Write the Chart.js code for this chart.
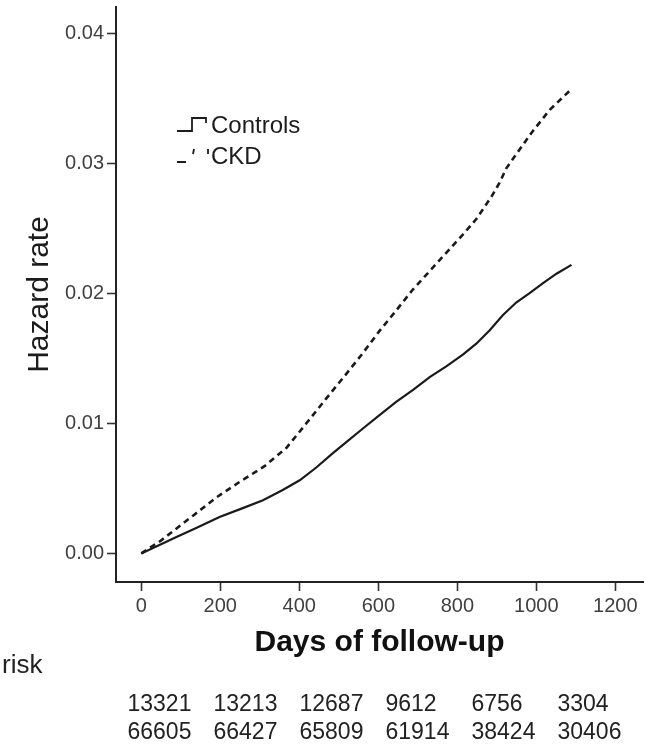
<!DOCTYPE html>
<html>
<head>
<meta charset="utf-8">
<title>Hazard rate by days of follow-up</title>
<script src="https://cdn.jsdelivr.net/npm/chart.js@4/dist/chart.umd.min.js"></script>
<style>
  html, body { margin: 0; padding: 0; background: #ffffff; }
  #wrap { width: 659px; height: 751px; }
</style>
</head>
<body>
<div id="wrap"><canvas id="chart" width="659" height="751"></canvas></div>
<script>
// Cumulative hazard, controls (solid line)
const controlDays = [0, 46, 89, 139, 198, 257, 308, 358, 401, 443, 485, 519, 561, 603, 646, 688, 730, 772, 814, 848, 882, 915, 949, 983, 1017, 1051, 1089];
const controlHazard = [0, 0.00064, 0.00125, 0.00195, 0.00280, 0.00348, 0.00408, 0.00487, 0.00562, 0.00660, 0.00770, 0.00855, 0.00960, 0.01062, 0.01166, 0.01256, 0.01355, 0.01438, 0.01528, 0.01612, 0.01715, 0.01830, 0.01928, 0.02000, 0.02077, 0.02150, 0.02218];

// Cumulative hazard, CKD (dashed line)
const ckdDays = [0, 46, 131, 190, 249, 312, 367, 418, 468, 519, 561, 603, 646, 688, 730, 772, 814, 848, 886, 907, 924, 945, 987, 1034, 1089];
const ckdHazard = [0, 0.0009, 0.0029, 0.0043, 0.0055, 0.0067, 0.0081, 0.0100, 0.0119, 0.0138, 0.0154, 0.0171, 0.0187, 0.0203, 0.0217, 0.0231, 0.0245, 0.0257, 0.0274, 0.0285, 0.0296, 0.0305, 0.0323, 0.0341, 0.0357];

// Axis ticks
const xTicks = [0, 200, 400, 600, 800, 1000, 1200];
const xTickLabels = ['0', '200', '400', '600', '800', '1000', '1200'];
const yTicks = [0, 0.01, 0.02, 0.03, 0.04];
const yTickLabels = ['0.00', '0.01', '0.02', '0.03', '0.04'];

// Numbers at risk
const atRiskCKD = [13321, 13213, 12687, 9612, 6756, 3304];
const atRiskControls = [66605, 66427, 65809, 61914, 38424, 30406];

const seriesNames = ['Controls', 'CKD'];
const xTitle = 'Days of follow-up';
const yTitle = 'Hazard rate';
const riskLabel = 'risk';

const FONT = "'Liberation Sans', Arial, Helvetica, sans-serif";
const INK = '#1c1c1c';

function toPoints(xs, ys) {
  return xs.map((x, i) => ({ x: x, y: ys[i] }));
}

// Legend inside the plot plus the numbers-at-risk table underneath
const annotations = {
  id: 'annotations',
  afterDraw(chart) {
    const ctx = chart.ctx;
    ctx.save();

    // legend
    const lx = 177;
    const rows = [133, 164];
    chart.data.datasets.forEach((ds, i) => {
      const base = rows[i];
      ctx.strokeStyle = INK;
      ctx.lineWidth = 1.8;
      ctx.lineJoin = 'miter';
      ctx.beginPath();
      if (!ds.borderDash || ds.borderDash.length === 0) {
        ctx.moveTo(lx, base - 2);
        ctx.lineTo(lx + 15, base - 2);
        ctx.lineTo(lx + 15, base - 15);
        ctx.lineTo(lx + 29, base - 15);
        ctx.lineTo(lx + 29, base - 10);
      } else {
        ctx.moveTo(lx, base - 2);
        ctx.lineTo(lx + 9, base - 2);
        ctx.moveTo(lx + 17, base - 15);
        ctx.lineTo(lx + 16, base - 10);
        ctx.moveTo(lx + 31, base - 15);
        ctx.lineTo(lx + 31, base - 10);
      }
      ctx.stroke();
      ctx.fillStyle = INK;
      ctx.font = '24px ' + FONT;
      ctx.textAlign = 'left';
      ctx.textBaseline = 'alphabetic';
      ctx.fillText(ds.label, lx + 34, base);
    });

    // numbers at risk
    ctx.fillStyle = '#222222';
    ctx.font = '26px ' + FONT;
    ctx.textAlign = 'left';
    ctx.fillText(riskLabel, 2, 673);

    ctx.font = '23px ' + FONT;
    const colStart = 127.5;
    const colPitch = 86;
    [atRiskCKD, atRiskControls].forEach((row, r) => {
      const y = r === 0 ? 711 : 739;
      row.forEach((n, c) => {
        ctx.fillText(String(n), colStart + c * colPitch, y);
      });
    });

    ctx.restore();
  }
};

new Chart(document.getElementById('chart'), {
  type: 'line',
  data: {
    datasets: [
      {
        label: seriesNames[0],
        data: toPoints(controlDays, controlHazard),
        borderColor: '#1a1a1a',
        borderWidth: 2.2,
        borderDash: [],
        pointRadius: 0,
        tension: 0,
        fill: false
      },
      {
        label: seriesNames[1],
        data: toPoints(ckdDays, ckdHazard),
        borderColor: '#1a1a1a',
        borderWidth: 2.6,
        borderDash: [6, 4.5],
        pointRadius: 0,
        tension: 0,
        fill: false
      }
    ]
  },
  options: {
    responsive: false,
    animation: false,
    events: [],
    layout: { padding: { left: 0, right: 16, top: 7, bottom: 0 } },
    plugins: {
      legend: { display: false },
      tooltip: { enabled: false }
    },
    scales: {
      x: {
        type: 'linear',
        min: -64,
        max: 1270,
        afterBuildTicks: s => { s.ticks = xTicks.map(v => ({ value: v })); },
        afterFit: s => {
          s.height = 169;
          s.paddingLeft = 0;
          s.paddingRight = 0;
        },
        grid: {
          display: true,
          drawOnChartArea: false,
          drawTicks: true,
          tickLength: 9,
          tickColor: '#333333',
          tickWidth: 1.6
        },
        border: { display: true, color: '#222222', width: 2 },
        ticks: {
          autoSkip: false,
          maxRotation: 0,
          padding: 3,
          color: '#404040',
          font: { family: FONT, size: 20 },
          callback: (v, i) => xTickLabels[i]
        },
        title: {
          display: true,
          text: xTitle,
          color: '#111111',
          font: { family: FONT, size: 30, weight: 'bold' },
          padding: { top: 0, bottom: 90 }
        }
      },
      y: {
        type: 'linear',
        min: -0.0022,
        max: 0.0420,
        afterBuildTicks: s => { s.ticks = yTicks.map(v => ({ value: v })); },
        afterFit: s => {
          s.width = 116;
          s.paddingTop = 0;
          s.paddingBottom = 0;
        },
        grid: {
          display: true,
          drawOnChartArea: false,
          drawTicks: true,
          tickLength: 9,
          tickColor: '#333333',
          tickWidth: 1.6
        },
        border: { display: true, color: '#222222', width: 2 },
        ticks: {
          padding: 3,
          color: '#404040',
          font: { family: FONT, size: 20 },
          callback: (v, i) => yTickLabels[i]
        },
        title: {
          display: true,
          text: yTitle,
          color: '#1c1c1c',
          font: { family: FONT, size: 30 },
          padding: { top: 22, bottom: 0 }
        }
      }
    }
  },
  plugins: [annotations]
});
</script>
</body>
</html>
